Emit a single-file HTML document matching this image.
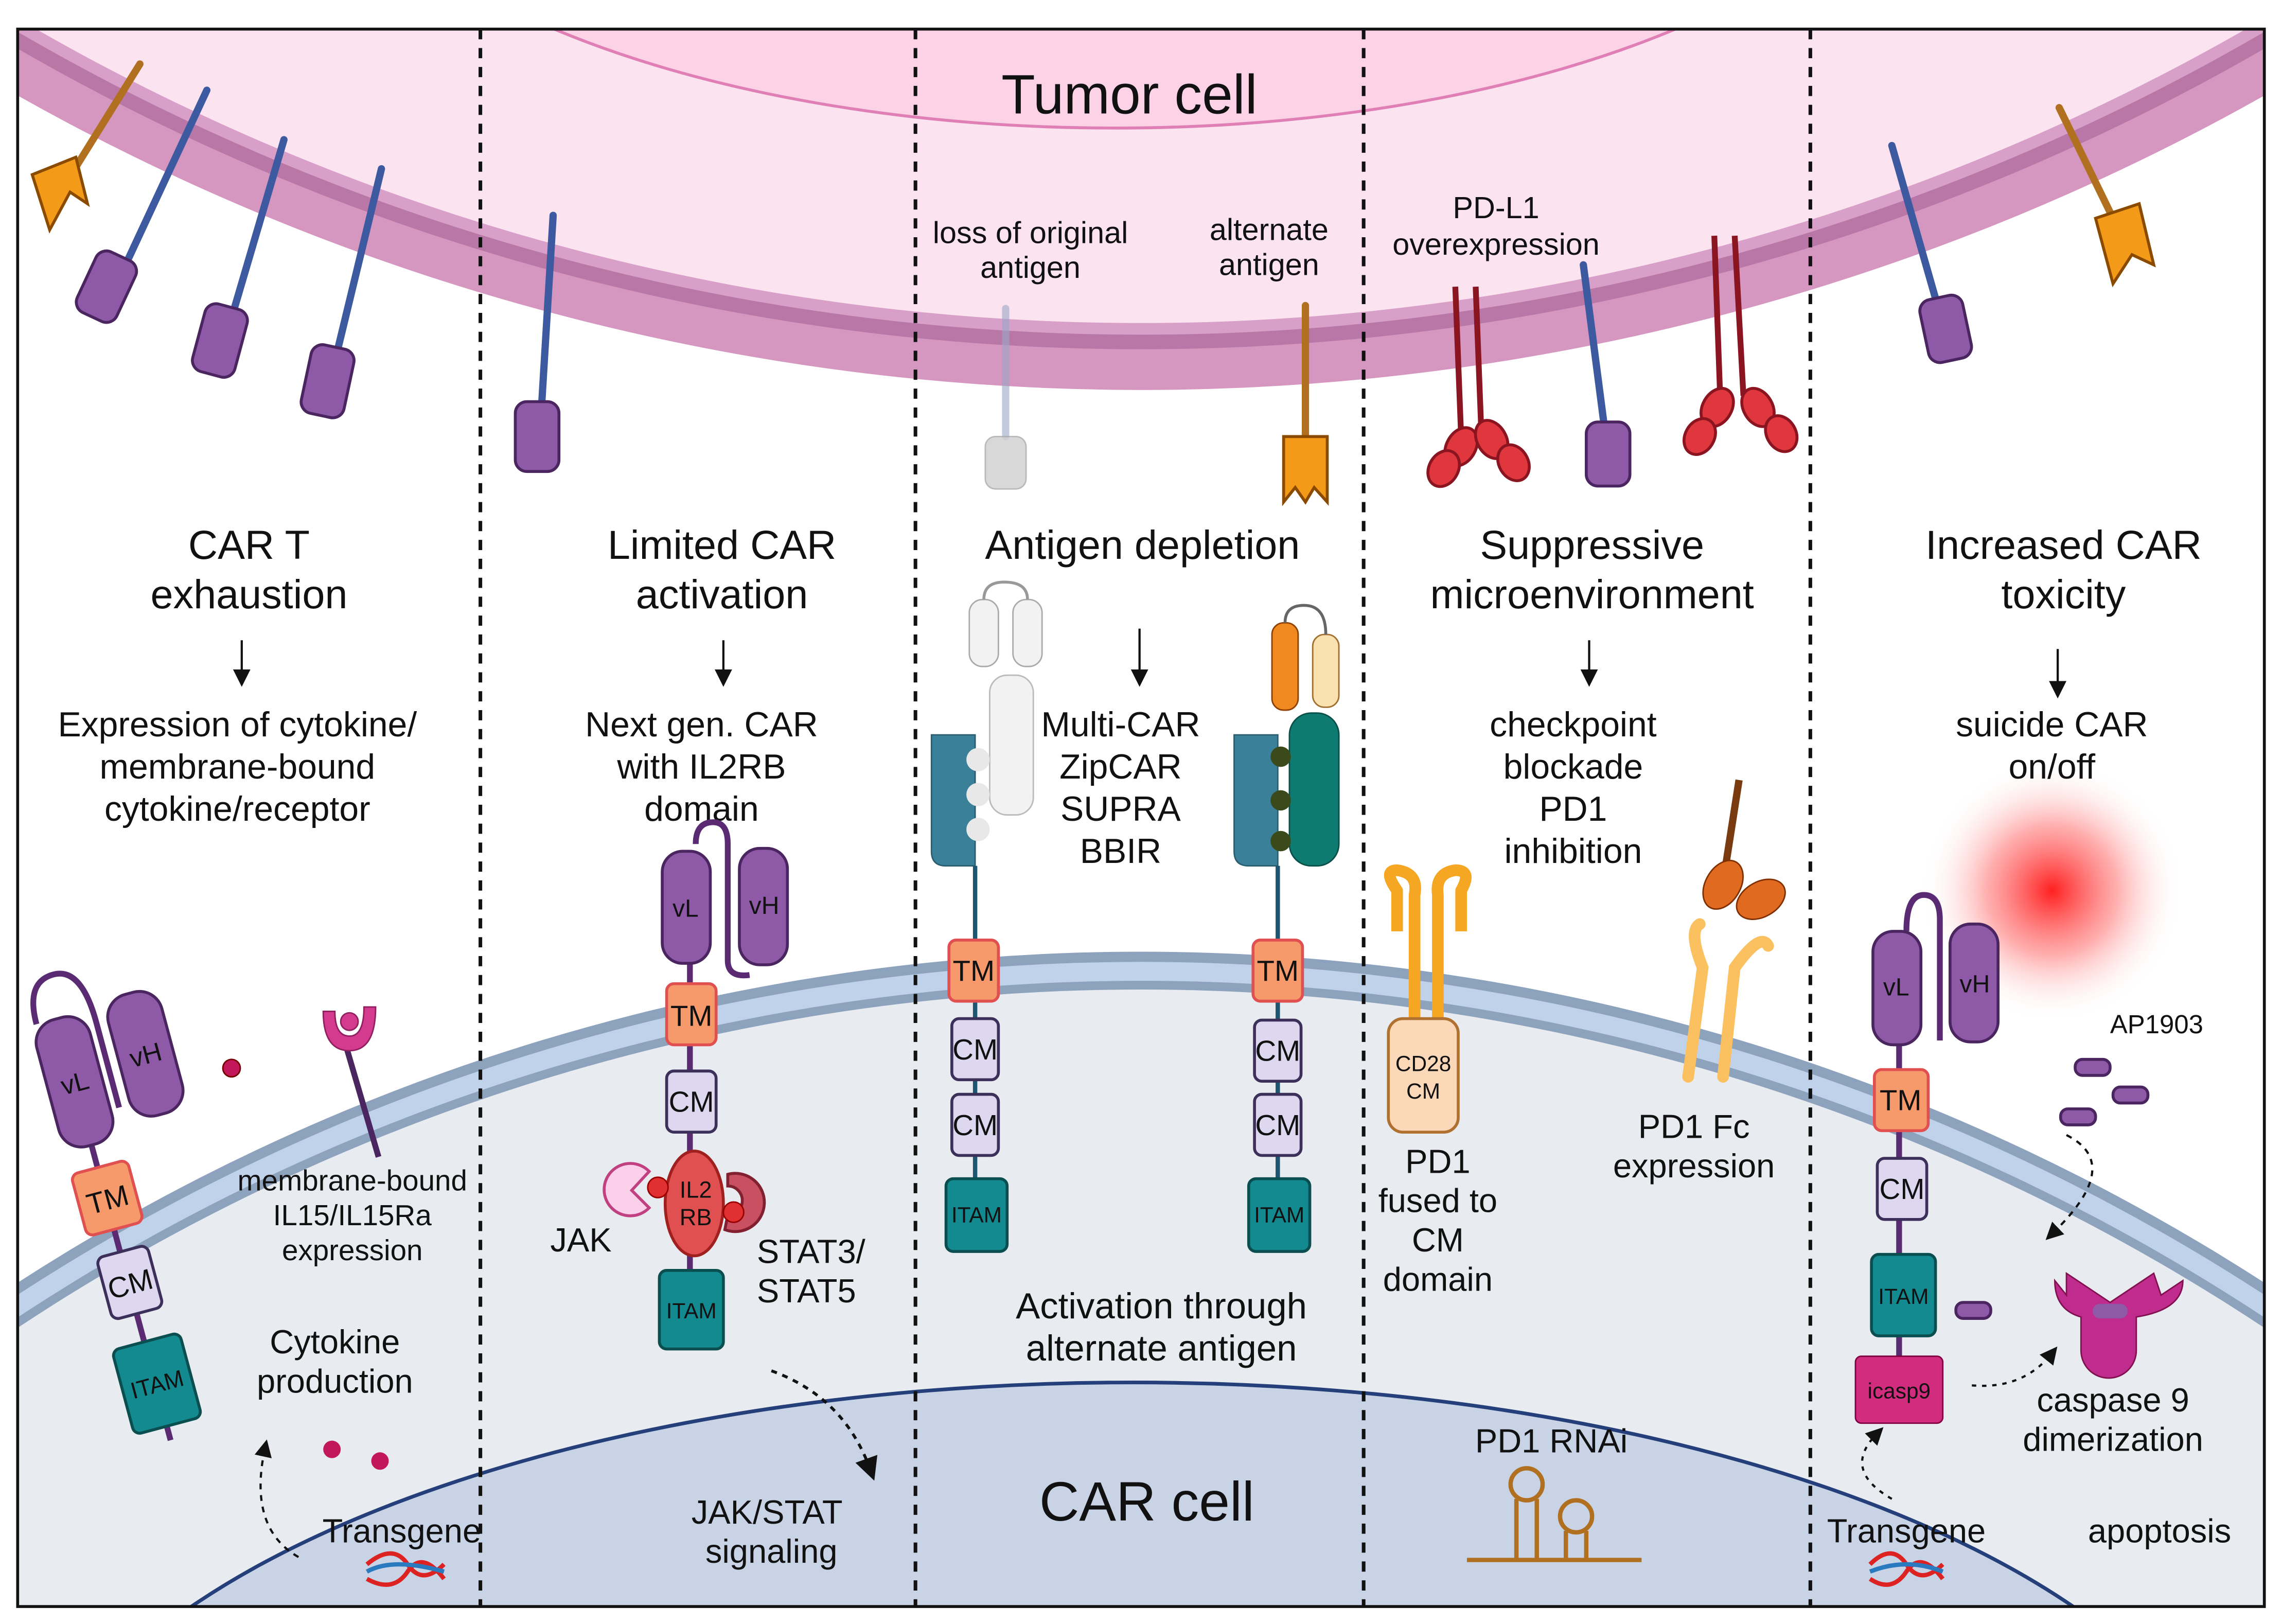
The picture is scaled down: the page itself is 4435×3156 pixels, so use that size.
<!DOCTYPE html>
<html><head><meta charset="utf-8"><style>
html,body{margin:0;padding:0;background:#fff;width:4435px;height:3156px;overflow:hidden}
svg{display:block}
text{font-family:"Liberation Sans",sans-serif;fill:#111}
</style></head><body>
<svg width="4435" height="3156" viewBox="0 0 1568 1116" xmlns="http://www.w3.org/2000/svg">
<defs>
<clipPath id="box"><rect x="12" y="20" width="1544" height="1084"/></clipPath>
<radialGradient id="glow"><stop offset="0" stop-color="#ff2020" stop-opacity="1"/><stop offset="0.5" stop-color="#ff6060" stop-opacity="0.5"/><stop offset="1" stop-color="#ffffff" stop-opacity="0"/></radialGradient>
<marker id="ah" markerWidth="8" markerHeight="8" refX="4" refY="4" orient="auto"><path d="M0,0 L8,4 L0,8 z" fill="#111"/></marker>
</defs>
<rect width="1568" height="1116" fill="#fff"/>
<g clip-path="url(#box)">
<circle cx="784" cy="-1306" r="1574" fill="#d596c0"/>
<circle cx="784" cy="-1306" r="1546" fill="#b977a8"/>
<circle cx="784" cy="-1306" r="1536" fill="#d8a0c8"/>
<circle cx="784" cy="-1306" r="1528" fill="#fbe3ef"/>
<ellipse cx="766" cy="-160" rx="560" ry="248" fill="#fcd3e6" stroke="#e07fb5" stroke-width="2"/>
<circle cx="784" cy="2078" r="1424" fill="#8da2bc"/>
<circle cx="784" cy="2078" r="1417" fill="#bfd2ea"/>
<circle cx="784" cy="2078" r="1404" fill="#8da2bc"/>
<circle cx="784" cy="2078" r="1398" fill="#e8ebef"/>
<ellipse cx="778" cy="1282" rx="766" ry="332" fill="#c8d3e6" stroke="#253f7a" stroke-width="2.5"/>
<circle cx="1410" cy="612" r="90" fill="url(#glow)"/>
</g>
<rect x="12" y="20" width="1544" height="1084" fill="none" stroke="#111" stroke-width="2"/>
<g stroke="#111" stroke-width="2.5" stroke-dasharray="7,6">
<line x1="330" y1="20" x2="330" y2="1104"/><line x1="629" y1="20" x2="629" y2="1104"/>
<line x1="937" y1="20" x2="937" y2="1104"/><line x1="1244" y1="20" x2="1244" y2="1104"/>
</g>
<g stroke-linecap="round">
<g stroke="#3d5aa0" stroke-width="5">
<line x1="142" y1="62" x2="88" y2="178"/><line x1="195" y1="96" x2="160" y2="215"/><line x1="262" y1="116" x2="232" y2="240"/>
<line x1="380" y1="148" x2="372" y2="280"/><line x1="1088" y1="182" x2="1102" y2="290"/><line x1="1300" y1="100" x2="1330" y2="205"/>
</g>
<g stroke="#b07020" stroke-width="5"><line x1="96" y1="44" x2="50" y2="118"/><line x1="1415" y1="74" x2="1452" y2="150"/><line x1="897" y1="210" x2="897" y2="300"/></g>
<line x1="691" y1="212" x2="691" y2="300" stroke="#9aa8c8" stroke-width="5" opacity="0.6"/>
</g>
<g fill="#8e5aa8" stroke="#4a2560" stroke-width="2">
<rect x="58" y="174" width="30" height="46" rx="8" transform="rotate(25 73 197)"/>
<rect x="136" y="210" width="30" height="48" rx="8" transform="rotate(15 151 234)"/>
<rect x="210" y="238" width="30" height="48" rx="8" transform="rotate(12 225 262)"/>
<rect x="354" y="276" width="30" height="48" rx="8"/>
<rect x="1090" y="290" width="30" height="44" rx="8"/>
<rect x="1322" y="204" width="30" height="44" rx="8" transform="rotate(-12 1337 226)"/>
</g>
<rect x="677" y="300" width="28" height="36" rx="7" fill="#cfcfcf" stroke="#aaa" opacity="0.8"/>
<g fill="#f39a18" stroke="#8a4a00" stroke-width="2">
<path d="M22,120 L52,108 L60,140 L48,132 L34,158 Z"/>
<path d="M1440,150 L1470,140 L1480,182 L1465,175 L1452,195 Z"/>
<path d="M882,300 L912,300 L912,345 L903,335 L897,345 L890,335 L882,345 Z"/>
</g>
<g stroke="#8a1520" stroke-width="4">
<line x1="1000" y1="197" x2="1004" y2="300"/><line x1="1014" y1="197" x2="1018" y2="300"/>
<line x1="1178" y1="162" x2="1182" y2="272"/><line x1="1192" y1="162" x2="1198" y2="272"/>
</g>
<g fill="#e0363d" stroke="#8a1520" stroke-width="2">
<ellipse cx="1004" cy="307" rx="10" ry="14" transform="rotate(30 1004 307)"/><ellipse cx="992" cy="322" rx="10" ry="13" transform="rotate(30 992 322)"/>
<ellipse cx="1025" cy="302" rx="10" ry="14" transform="rotate(-30 1025 302)"/><ellipse cx="1040" cy="318" rx="10" ry="13" transform="rotate(-30 1040 318)"/>
<ellipse cx="1180" cy="280" rx="10" ry="14" transform="rotate(30 1180 280)"/><ellipse cx="1168" cy="300" rx="10" ry="13" transform="rotate(30 1168 300)"/>
<ellipse cx="1208" cy="280" rx="10" ry="14" transform="rotate(-30 1208 280)"/><ellipse cx="1224" cy="298" rx="10" ry="13" transform="rotate(-30 1224 298)"/>
</g>
<text x="776" y="78" font-size="38" text-anchor="middle">Tumor cell</text>
<g font-size="21" text-anchor="middle">
<text x="708" y="167" fill="#333">loss of original</text><text x="708" y="191" fill="#333">antigen</text>
<text x="872" y="165" fill="#333">alternate</text><text x="872" y="189" fill="#333">antigen</text>
<text x="1028" y="150" fill="#333">PD-L1</text><text x="1028" y="175" fill="#333">overexpression</text>
</g>
<g font-size="28" text-anchor="middle">
<text x="171" y="384">CAR T</text><text x="171" y="418">exhaustion</text>
<text x="496" y="384">Limited CAR</text><text x="496" y="418">activation</text>
<text x="785" y="384">Antigen depletion</text>
<text x="1094" y="384">Suppressive</text><text x="1094" y="418">microenvironment</text>
<text x="1418" y="384">Increased CAR</text><text x="1418" y="418">toxicity</text>
</g>
<g stroke="#111" stroke-width="1.5" marker-end="url(#ah)">
<line x1="166" y1="440" x2="166" y2="466"/><line x1="497" y1="440" x2="497" y2="466"/>
<line x1="783" y1="432" x2="783" y2="466"/><line x1="1092" y1="440" x2="1092" y2="466"/><line x1="1414" y1="446" x2="1414" y2="474"/>
</g>
<g font-size="24" text-anchor="middle">
<text x="163" y="506">Expression of cytokine/</text><text x="163" y="535">membrane-bound</text><text x="163" y="564">cytokine/receptor</text>
<text x="482" y="506">Next gen. CAR</text><text x="482" y="535">with IL2RB</text><text x="482" y="564">domain</text>
<text x="770" y="506">Multi-CAR</text><text x="770" y="535">ZipCAR</text><text x="770" y="564">SUPRA</text><text x="770" y="593">BBIR</text>
<text x="1081" y="506">checkpoint</text><text x="1081" y="535">blockade</text><text x="1081" y="564">PD1</text><text x="1081" y="593">inhibition</text>
<text x="1410" y="506">suicide CAR</text><text x="1410" y="535">on/off</text>
</g>
<g transform="rotate(-15 95 830)">
<path d="M60,690 Q60,660 80,660 Q100,660 100,700 L100,760" fill="none" stroke="#5a2a72" stroke-width="4"/>
<line x1="75" y1="700" x2="75" y2="990" stroke="#5a2a72" stroke-width="4"/>
<rect x="56" y="690" width="38" height="90" rx="16" fill="#8e5aa8" stroke="#4a2560" stroke-width="2"/>
<rect x="108" y="686" width="38" height="86" rx="16" fill="#8e5aa8" stroke="#4a2560" stroke-width="2"/>
<text x="75" y="742" font-size="18" text-anchor="middle">vL</text><text x="127" y="736" font-size="18" text-anchor="middle">vH</text>
<rect x="56" y="796" width="40" height="44" rx="5" fill="#f79a6b" stroke="#e05050" stroke-width="2"/><text x="76" y="826" font-size="20" text-anchor="middle">TM</text>
<rect x="58" y="856" width="36" height="44" rx="5" fill="#ddd8f0" stroke="#3c2f5a" stroke-width="2"/><text x="76" y="886" font-size="20" text-anchor="middle">CM</text>
<rect x="52" y="920" width="48" height="60" rx="5" fill="#138a8f" stroke="#0a4e50" stroke-width="2"/><text x="76" y="956" font-size="16" text-anchor="middle">ITAM</text>
</g>
<circle cx="159" cy="734" r="6" fill="#c2185b" stroke="#700"/>
<circle cx="228" cy="996" r="6" fill="#c2185b"/><circle cx="261" cy="1004" r="6" fill="#c2185b"/>
<line x1="238" y1="720" x2="260" y2="795" stroke="#4a2560" stroke-width="4"/>
<path d="M222,695 Q222,722 240,722 Q258,722 258,692 L250,692 Q250,712 240,712 Q230,712 230,695 Z" fill="#d43a8e" stroke="#902060"/>
<circle cx="240" cy="702" r="6" fill="#d43a8e" stroke="#902060"/>
<g font-size="20" text-anchor="middle">
<text x="242" y="818">membrane-bound</text><text x="242" y="842">IL15/IL15Ra</text><text x="242" y="866">expression</text>
<text x="230" y="930" font-size="23">Cytokine</text><text x="230" y="957" font-size="23">production</text>
<text x="276" y="1060" font-size="23">Transgene</text>
</g>
<path d="M205,1070 Q170,1050 182,995" fill="none" stroke="#111" stroke-width="1.5" stroke-dasharray="4,4" marker-end="url(#ah)"/>
<path d="M252,1075 Q270,1060 280,1075 Q290,1090 305,1075 M252,1085 Q270,1095 280,1080 Q290,1065 305,1085" fill="none" stroke="#d22" stroke-width="3"/>
<path d="M252,1080 Q270,1070 305,1080" fill="none" stroke="#2a7ac0" stroke-width="3"/>
<path d="M478,580 Q478,565 490,565 Q500,565 500,580 L500,660 Q500,672 515,670" fill="none" stroke="#5a2a72" stroke-width="4"/>
<line x1="474" y1="600" x2="474" y2="880" stroke="#5a2a72" stroke-width="4"/>
<rect x="455" y="585" width="33" height="77" rx="14" fill="#8e5aa8" stroke="#4a2560" stroke-width="2"/>
<rect x="508" y="583" width="33" height="80" rx="14" fill="#8e5aa8" stroke="#4a2560" stroke-width="2"/>
<text x="471" y="630" font-size="17" text-anchor="middle">vL</text><text x="525" y="628" font-size="17" text-anchor="middle">vH</text>
<rect x="458" y="676" width="34" height="42" rx="5" fill="#f79a6b" stroke="#e05050" stroke-width="2"/><text x="475" y="705" font-size="20" text-anchor="middle">TM</text>
<rect x="458" y="736" width="34" height="42" rx="5" fill="#ddd8f0" stroke="#3c2f5a" stroke-width="2"/><text x="475" y="764" font-size="20" text-anchor="middle">CM</text>
<path d="M446,805 A18,18 0 1,0 446,830 L434,818 Z" fill="#fbd0ea" stroke="#c04080" stroke-width="2"/>
<path d="M500,807 A20,20 0 1,1 498,845 L500,835 A10,10 0 1,0 500,815 Z" fill="#c85060" stroke="#802030" stroke-width="2"/>
<ellipse cx="477" cy="827" rx="20" ry="36" fill="#e05050" stroke="#a02020" stroke-width="2"/>
<circle cx="452" cy="816" r="7" fill="#e03030" stroke="#900"/><circle cx="504" cy="833" r="7" fill="#e03030" stroke="#900"/>
<text x="478" y="823" font-size="16" text-anchor="middle">IL2</text><text x="478" y="842" font-size="16" text-anchor="middle">RB</text>
<rect x="453" y="873" width="44" height="54" rx="5" fill="#138a8f" stroke="#0a4e50" stroke-width="2"/><text x="475" y="906" font-size="15" text-anchor="middle">ITAM</text>
<g font-size="23"><text x="378" y="860">JAK</text><text x="520" y="868">STAT3/</text><text x="520" y="895">STAT5</text>
<text x="527" y="1047" text-anchor="middle">JAK/STAT</text><text x="530" y="1074" text-anchor="middle">signaling</text></g>
<path d="M530,942 Q580,960 598,1010" fill="none" stroke="#111" stroke-width="2" stroke-dasharray="4,4" marker-end="url(#ah)"/>
<g>
<rect x="666" y="412" width="20" height="46" rx="9" fill="#f2f2f2" stroke="#aaa"/><rect x="696" y="412" width="20" height="46" rx="9" fill="#f2f2f2" stroke="#aaa"/>
<path d="M676,412 Q676,400 690,400 Q706,400 706,412" fill="none" stroke="#999" stroke-width="2"/>
<rect x="680" y="464" width="30" height="96" rx="12" fill="#f2f2f2" stroke="#bbb"/>
<path d="M640,505 L670,505 L670,595 L650,595 Q640,595 640,585 Z" fill="#3b8099" stroke="#2a5f72"/>
<circle cx="672" cy="522" r="8" fill="#e8e8e8"/><circle cx="672" cy="546" r="8" fill="#e8e8e8"/><circle cx="672" cy="570" r="8" fill="#e8e8e8"/>
<line x1="670" y1="595" x2="670" y2="810" stroke="#1e5570" stroke-width="3"/>
<rect x="652" y="646" width="34" height="42" rx="5" fill="#f79a6b" stroke="#e05050" stroke-width="2"/><text x="669" y="674" font-size="20" text-anchor="middle">TM</text>
<rect x="654" y="700" width="32" height="42" rx="5" fill="#ddd8f0" stroke="#3c2f5a" stroke-width="2"/><text x="670" y="728" font-size="20" text-anchor="middle">CM</text>
<rect x="654" y="752" width="32" height="42" rx="5" fill="#ddd8f0" stroke="#3c2f5a" stroke-width="2"/><text x="670" y="780" font-size="20" text-anchor="middle">CM</text>
<rect x="650" y="810" width="42" height="50" rx="5" fill="#138a8f" stroke="#0a4e50" stroke-width="2"/><text x="671" y="840" font-size="15" text-anchor="middle">ITAM</text>
</g>
<g>
<rect x="874" y="428" width="18" height="60" rx="8" fill="#f08a20" stroke="#904000"/><rect x="902" y="436" width="18" height="50" rx="8" fill="#fbe0b0" stroke="#a07030"/>
<path d="M883,428 Q883,416 896,416 Q911,416 911,436" fill="none" stroke="#666" stroke-width="2"/>
<path d="M848,505 L878,505 L878,595 L858,595 Q848,595 848,585 Z" fill="#3b8099" stroke="#2a5f72"/>
<rect x="886" y="490" width="34" height="105" rx="15" fill="#0e7a70" stroke="#095048"/>
<circle cx="880" cy="520" r="7" fill="#3a4a1a"/><circle cx="880" cy="550" r="7" fill="#3a4a1a"/><circle cx="880" cy="578" r="7" fill="#3a4a1a"/>
<line x1="878" y1="595" x2="878" y2="810" stroke="#1e5570" stroke-width="3"/>
<rect x="861" y="646" width="34" height="42" rx="5" fill="#f79a6b" stroke="#e05050" stroke-width="2"/><text x="878" y="674" font-size="20" text-anchor="middle">TM</text>
<rect x="862" y="701" width="32" height="42" rx="5" fill="#ddd8f0" stroke="#3c2f5a" stroke-width="2"/><text x="878" y="729" font-size="20" text-anchor="middle">CM</text>
<rect x="862" y="752" width="32" height="42" rx="5" fill="#ddd8f0" stroke="#3c2f5a" stroke-width="2"/><text x="878" y="780" font-size="20" text-anchor="middle">CM</text>
<rect x="858" y="810" width="42" height="50" rx="5" fill="#138a8f" stroke="#0a4e50" stroke-width="2"/><text x="879" y="840" font-size="15" text-anchor="middle">ITAM</text>
</g>
<g font-size="25" text-anchor="middle"><text x="798" y="906">Activation through</text><text x="798" y="935">alternate antigen</text>
<text x="788" y="1045" font-size="38">CAR cell</text></g>
<path d="M960,640 L960,612 Q950,598 960,598 Q975,600 972,615 L972,700 M988,700 L988,615 Q986,600 1000,598 Q1012,598 1004,612 L1004,640" fill="none" stroke="#f5a623" stroke-width="8" stroke-linejoin="round"/>
<rect x="954" y="700" width="48" height="78" rx="10" fill="#fbd8b8" stroke="#b07030" stroke-width="2"/>
<text x="978" y="736" font-size="15" text-anchor="middle">CD28</text><text x="978" y="755" font-size="15" text-anchor="middle">CM</text>
<path d="M1160,740 L1170,665 Q1160,640 1168,635 M1184,740 L1192,665 Q1210,640 1215,650" fill="none" stroke="#fbc060" stroke-width="8" stroke-linecap="round"/>
<line x1="1195" y1="536" x2="1185" y2="600" stroke="#7a3a10" stroke-width="5"/>
<ellipse cx="1184" cy="608" rx="12" ry="18" transform="rotate(30 1184 608)" fill="#e06a20" stroke="#803000"/>
<ellipse cx="1210" cy="618" rx="12" ry="18" transform="rotate(60 1210 618)" fill="#e06a20" stroke="#803000"/>
<g font-size="23" text-anchor="middle"><text x="988" y="806">PD1</text><text x="988" y="833">fused to</text><text x="988" y="860">CM</text><text x="988" y="887">domain</text>
<text x="1164" y="782">PD1 Fc</text><text x="1164" y="809">expression</text>
<text x="1066" y="998">PD1 RNAi</text></g>
<g fill="none" stroke="#b07020" stroke-width="3">
<path d="M1008,1072 L1128,1072"/><path d="M1042,1072 L1042,1030 M1056,1072 L1056,1030"/><circle cx="1049" cy="1020" r="11"/>
<path d="M1076,1072 L1076,1052 M1090,1072 L1090,1052"/><circle cx="1083" cy="1042" r="11"/>
</g>
<path d="M1310,640 Q1310,615 1322,615 Q1333,615 1333,632 L1333,715" fill="none" stroke="#5a2a72" stroke-width="4"/>
<line x1="1305" y1="700" x2="1305" y2="935" stroke="#5a2a72" stroke-width="4"/>
<rect x="1287" y="640" width="33" height="78" rx="14" fill="#8e5aa8" stroke="#4a2560" stroke-width="2"/>
<rect x="1340" y="635" width="33" height="81" rx="14" fill="#8e5aa8" stroke="#4a2560" stroke-width="2"/>
<text x="1303" y="684" font-size="17" text-anchor="middle">vL</text><text x="1357" y="682" font-size="17" text-anchor="middle">vH</text>
<rect x="1288" y="735" width="37" height="42" rx="5" fill="#f79a6b" stroke="#e05050" stroke-width="2"/><text x="1306" y="763" font-size="20" text-anchor="middle">TM</text>
<rect x="1290" y="796" width="34" height="42" rx="5" fill="#ddd8f0" stroke="#3c2f5a" stroke-width="2"/><text x="1307" y="824" font-size="20" text-anchor="middle">CM</text>
<rect x="1286" y="862" width="44" height="56" rx="5" fill="#138a8f" stroke="#0a4e50" stroke-width="2"/><text x="1308" y="896" font-size="15" text-anchor="middle">ITAM</text>
<rect x="1275" y="932" width="60" height="46" rx="4" fill="#d12c7e" stroke="#800040"/><text x="1305" y="961" font-size="15" text-anchor="middle" fill="#fff">icasp9</text>
<g fill="#8e5aa8" stroke="#4a2560" stroke-width="2">
<rect x="1426" y="728" width="24" height="11" rx="5"/><rect x="1452" y="747" width="24" height="11" rx="5"/><rect x="1416" y="762" width="24" height="11" rx="5"/><rect x="1344" y="895" width="24" height="11" rx="5"/>
</g>
<path d="M1412,880 Q1412,900 1430,905 L1430,928 A10,10 0 0,0 1468,928 L1468,905 Q1500,900 1500,880 L1485,890 L1480,875 L1450,895 L1420,875 L1420,890 Z" fill="#c02c8e" stroke="#801050"/>
<rect x="1438" y="896" width="24" height="10" rx="5" fill="#8e5aa8"/>
<text x="1482" y="710" font-size="18" text-anchor="middle">AP1903</text>
<path d="M1420,780 Q1460,800 1410,848" fill="none" stroke="#111" stroke-width="1.5" stroke-dasharray="4,4" marker-end="url(#ah)"/>
<path d="M1355,952 Q1390,955 1410,930" fill="none" stroke="#111" stroke-width="1.5" stroke-dasharray="3,4" marker-end="url(#ah)"/>
<path d="M1300,1030 Q1265,1010 1290,985" fill="none" stroke="#111" stroke-width="1.5" stroke-dasharray="3,4" marker-end="url(#ah)"/>
<g font-size="23" text-anchor="middle"><text x="1452" y="970">caspase 9</text><text x="1452" y="997">dimerization</text>
<text x="1310" y="1060">Transgene</text><text x="1484" y="1060">apoptosis</text></g>
<path d="M1285,1075 Q1300,1060 1310,1075 Q1320,1090 1335,1075 M1285,1085 Q1300,1095 1310,1080 Q1320,1065 1335,1085" fill="none" stroke="#d22" stroke-width="3"/>
<path d="M1285,1080 Q1310,1070 1335,1080" fill="none" stroke="#2a7ac0" stroke-width="3"/>
</svg>
</body></html>
